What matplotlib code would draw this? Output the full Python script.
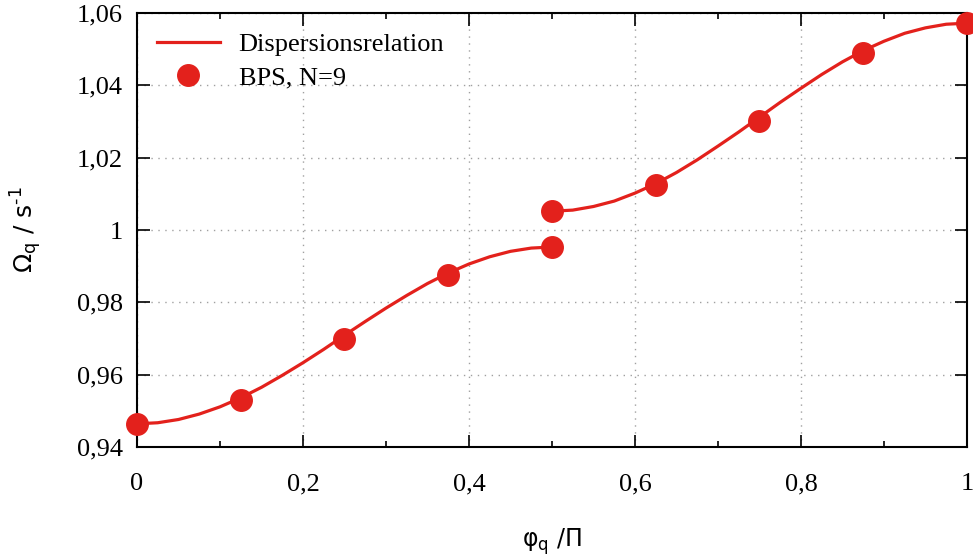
import matplotlib.pyplot as plt
import matplotlib.ticker as mticker

# Dispersion curve, lower branch (0 .. 0.5) and upper branch (0.5 .. 1)
phi_lower = [0.0, 0.025, 0.05, 0.075, 0.1, 0.125, 0.15, 0.175, 0.2, 0.225, 0.25,
             0.275, 0.3, 0.325, 0.35, 0.375, 0.4, 0.425, 0.45, 0.475, 0.5]
omega_lower = [0.9464, 0.9467, 0.9476, 0.9491, 0.9511, 0.9536, 0.9565, 0.9598, 0.9633, 0.9670, 0.9709,
               0.9747, 0.9784, 0.9819, 0.9852, 0.9881, 0.9906, 0.9926, 0.9941, 0.9950, 0.9953]
phi_upper = [0.5, 0.525, 0.55, 0.575, 0.6, 0.625, 0.65, 0.675, 0.7, 0.725, 0.75,
             0.775, 0.8, 0.825, 0.85, 0.875, 0.9, 0.925, 0.95, 0.975, 1.0]
omega_upper = [1.0052, 1.0055, 1.0065, 1.0080, 1.0102, 1.0128, 1.0159, 1.0194, 1.0232, 1.0271, 1.0312,
               1.0353, 1.0392, 1.0430, 1.0465, 1.0496, 1.0522, 1.0544, 1.0559, 1.0569, 1.0572]

# BPS simulation, N=9
phi_bps = [0.0, 0.125, 0.25, 0.375, 0.5, 0.5, 0.625, 0.75, 0.875, 1.0]
omega_bps = [0.9464, 0.9530, 0.9699, 0.9876, 0.9953, 1.0052, 1.0124, 1.0301, 1.0489, 1.0572]

red = '#e3211c'
serif = ['Liberation Serif', 'DejaVu Serif']

fig = plt.figure(figsize=(9.73, 5.59), dpi=100)
ax = fig.add_axes([0.1408, 0.2004, 0.853, 0.7763])

ax.plot(phi_lower, omega_lower, color=red, lw=2.3, label='Dispersionsrelation', zorder=3,
        solid_joinstyle='round')
ax.plot(phi_upper, omega_upper, color=red, lw=2.3, zorder=3, solid_joinstyle='round')
ax.plot(phi_bps, omega_bps, 'o', color=red, ms=15.5, label='BPS, N=9', zorder=4, clip_on=False)

ax.set_xlim(0, 1)
ax.set_ylim(0.94, 1.06)

ax.xaxis.set_major_locator(mticker.MultipleLocator(0.2))
ax.xaxis.set_minor_locator(mticker.MultipleLocator(0.1))
ax.yaxis.set_major_locator(mticker.MultipleLocator(0.02))

def comma_fmt(v, pos):
    s = ('%.2f' % v).rstrip('0').rstrip('.')
    return s.replace('.', ',')

ax.xaxis.set_major_formatter(mticker.FuncFormatter(comma_fmt))
ax.yaxis.set_major_formatter(mticker.FuncFormatter(comma_fmt))

ax.tick_params(which='both', direction='in', top=True, right=True, width=1.2)
ax.tick_params(which='major', length=9, labelsize=19)
ax.tick_params(axis='x', which='major', pad=19)
ax.tick_params(axis='y', which='major', pad=10)
ax.tick_params(which='minor', length=4.5)
for lab in ax.get_xticklabels() + ax.get_yticklabels():
    lab.set_family(serif)

for sp in ax.spines.values():
    sp.set_linewidth(1.5)

ax.grid(True, which='major', color='#a0a0a0', linestyle=(0, (1, 4)), linewidth=1)

ax.set_xlabel(r'$\mathrm{\varphi_q}$ /$\mathrm{\Pi}$', fontsize=17, labelpad=22)
ax.set_ylabel(r'$\mathrm{\Omega_q}$ / s$^{\text{-1}}$', fontsize=18, labelpad=24)

leg = ax.legend(loc='upper left', frameon=False, prop={'family': serif, 'size': 19},
                handlelength=2.4, borderaxespad=0.5, labelspacing=0.35, handletextpad=0.7,
                borderpad=0.25)

fig.savefig('out.png', dpi=100)
